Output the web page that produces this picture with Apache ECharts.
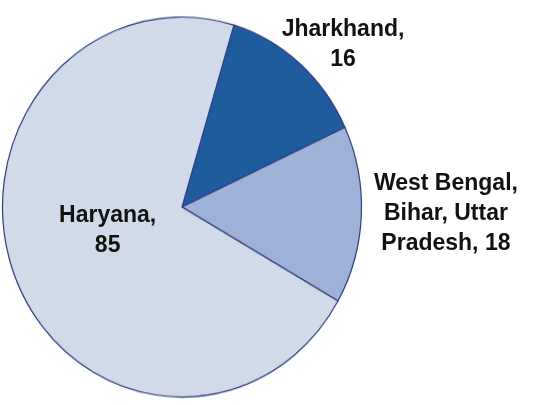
<!DOCTYPE html>
<html>
<head>
<meta charset="utf-8">
<script src="https://cdn.jsdelivr.net/npm/echarts@6/dist/echarts.min.js"></script>
<style>
  html, body { margin: 0; padding: 0; background: #ffffff; }
  #wrap { position: relative; width: 553px; height: 405px; overflow: hidden; }
  #pie, #labels { position: absolute; left: 0; top: 0; width: 553px; height: 405px; }
  #pie { transform: scaleY(1.0585); transform-origin: 0 207px; }
</style>
</head>
<body>
<div id="wrap">
  <div id="pie"></div>
  <div id="labels"></div>
</div>
<script>
// ---- data ----
const categories = ['Jharkhand', 'West Bengal, Bihar, Uttar Pradesh', 'Haryana'];
const values = [16, 18, 85];
const colors = ['#1f5c9e', '#9db2d6', '#d0dae8'];

const center = [182, 207];
const startAngle = 73.2;

const pieData = categories.map((name, i) => ({
  name: name,
  value: values[i],
  itemStyle: { color: colors[i] }
}));

// slices layer (stretched vertically to reproduce the slightly elliptical pie)
const pieChart = echarts.init(document.getElementById('pie'), null, { renderer: 'canvas' });
pieChart.setOption({
  animation: false,
  series: [{
    type: 'pie',
    center: center,
    radius: 179.5,
    startAngle: startAngle,
    clockwise: true,
    avoidLabelOverlap: false,
    label: { show: false },
    labelLine: { show: false },
    itemStyle: { borderColor: '#2f3d82', borderWidth: 1.2 },
    emphasis: { disabled: true },
    data: pieData
  }]
});

// labels layer (unstretched text)
const labelOffsets = [[100, -92], [171, 3], [12, -11]];
const labelData = categories.map((name, i) => {
  const d = {
    name: name,
    value: values[i],
    itemStyle: { color: 'rgba(0,0,0,0)' },
    label: { offset: labelOffsets[i] }
  };
  if (i === 1) {
    d.label.formatter = '{b}, {c}';
    d.label.width = 150;
    d.label.overflow = 'break';
  }
  return d;
});
const labelChart = echarts.init(document.getElementById('labels'), null, { renderer: 'canvas' });
labelChart.setOption({
  animation: false,
  series: [{
    type: 'pie',
    center: center,
    radius: 180,
    startAngle: startAngle,
    clockwise: true,
    silent: true,
    avoidLabelOverlap: false,
    itemStyle: { borderWidth: 0 },
    labelLine: { show: false },
    label: {
      show: true,
      position: 'inside',
      formatter: '{b},\n{c}',
      fontFamily: "'Liberation Sans', Arial, sans-serif",
      fontWeight: 'bold',
      fontSize: 23,
      lineHeight: 30,
      color: '#111111',
      align: 'center',
      verticalAlign: 'middle'
    },
    emphasis: { disabled: true },
    data: labelData
  }]
});
</script>
</body>
</html>
